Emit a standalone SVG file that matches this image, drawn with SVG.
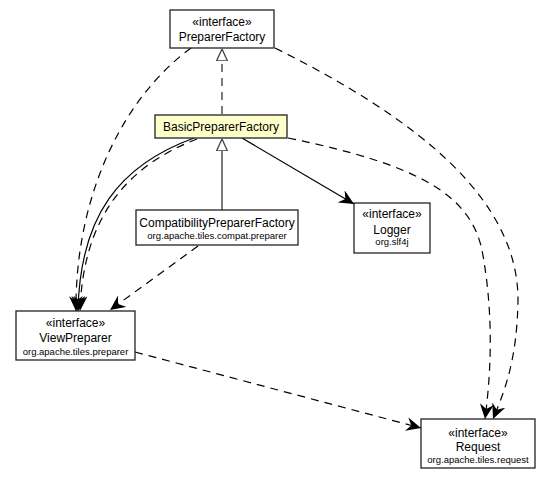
<svg xmlns="http://www.w3.org/2000/svg" width="551" height="479" viewBox="0 0 551 479">
<style>
.box{fill:#fff;stroke:#222;stroke-width:1.3}
.basic{fill:#ffffcc;stroke:#222;stroke-width:1.3}
text{font-family:"Liberation Sans",Arial,sans-serif;fill:#000;text-anchor:middle}
.t{font-size:12px}
.p{font-size:9.5px}
.e{fill:none;stroke:#000;stroke-width:1.2}
.d{stroke-dasharray:8,6}
.g{fill:none;stroke:#444;stroke-width:1.4}
</style>
<defs>
<marker id="arr" markerUnits="userSpaceOnUse" markerWidth="17" markerHeight="14" refX="15" refY="7" orient="auto">
<path d="M0,0 L15,7 L0,14 L5,7 z" fill="#000"/>
</marker>
<marker id="tri" markerUnits="userSpaceOnUse" markerWidth="12" markerHeight="14" refX="12" refY="6" orient="auto">
<path d="M12,6 L0,0.5 L0,11.5 z" fill="#fff" stroke="#444" stroke-width="1.3"/>
</marker>
</defs>
<g id="connectors">
<path class="g d" d="M222,114 L222,49" marker-end="url(#tri)"/>
<path class="g" d="M222,210 L222,139" marker-end="url(#tri)"/>
<path class="e d" d="M191,48 C120,100 75,200 76,311" marker-end="url(#arr)"/>
<path class="e" d="M194,138 C120,165 80,215 78,311" marker-end="url(#arr)"/>
<path class="e d" d="M197,139 C124,167 83,220 80,311" marker-end="url(#arr)"/>
<path class="e d" d="M198,246 L110,310" marker-end="url(#arr)"/>
<path class="e d" d="M135,352 L421,428" marker-end="url(#arr)"/>
<path class="e" d="M242,138 L354,204" marker-end="url(#arr)"/>
<path class="e d" d="M288,138 C420,165 470,195 482,250 C495,320 490,380 485,419" marker-end="url(#arr)"/>
<path class="e d" d="M275,48 C420,120 518,200 518,300 C517,360 505,390 493,419" marker-end="url(#arr)"/>
</g>
<g id="PreparerFactory">
<rect class="box" x="170" y="10" width="104" height="38"/>
<text class="t" x="222" y="26">«interface»</text>
<text class="t" x="222" y="41">PreparerFactory</text>
</g>
<g id="BasicPreparerFactory">
<rect class="basic" x="155" y="115" width="132" height="23"/>
<text class="t" x="221" y="131">BasicPreparerFactory</text>
</g>
<g id="CompatibilityPreparerFactory">
<rect class="box" x="136" y="210" width="162" height="35"/>
<text class="t" x="217" y="227">CompatibilityPreparerFactory</text>
<text class="p" x="217" y="239">org.apache.tiles.compat.preparer</text>
</g>
<g id="Logger">
<rect class="box" x="354" y="203" width="76" height="50"/>
<text class="t" x="392" y="218">«interface»</text>
<text class="t" x="392" y="234">Logger</text>
<text class="p" x="392" y="245">org.slf4j</text>
</g>
<g id="ViewPreparer">
<rect class="box" x="16" y="311" width="119" height="49"/>
<text class="t" x="75.5" y="327">«interface»</text>
<text class="t" x="75.5" y="342">ViewPreparer</text>
<text class="p" x="75.5" y="355">org.apache.tiles.preparer</text>
</g>
<g id="Request">
<rect class="box" x="421" y="419" width="114" height="49"/>
<text class="t" x="478" y="437">«interface»</text>
<text class="t" x="478" y="451">Request</text>
<text class="p" x="478" y="463">org.apache.tiles.request</text>
</g>
</svg>
